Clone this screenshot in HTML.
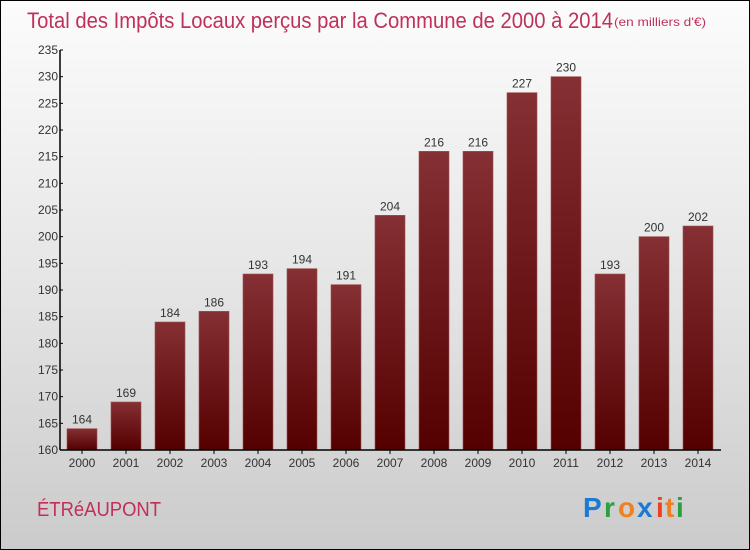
<!DOCTYPE html>
<html><head><meta charset="utf-8"><style>
body{margin:0}
#c{width:748px;height:548px;border:1px solid #000;background:linear-gradient(#fcfcfc,#e6e6e6 50%,#cbcbcb);position:relative;font-family:"Liberation Sans",sans-serif;overflow:hidden}
</style></head><body>
<div id="c">
<svg width="748" height="548" id="s">
<text x="26" y="27" font-size="22" fill="#c0305a" textLength="586" lengthAdjust="spacingAndGlyphs">Total des Impôts Locaux perçus par la Commune de 2000 à 2014</text>
<text x="613" y="25" font-size="12" fill="#c0305a" textLength="92" lengthAdjust="spacingAndGlyphs">(en milliers d'€)</text>
<text x="36" y="515" font-size="20" fill="#c0305a" textLength="124" lengthAdjust="spacingAndGlyphs">ÉTRéAUPONT</text>
<g font-size="28" font-weight="bold">
<text x="582" y="516" fill="#1a7ad4">P</text><text x="603" y="516" fill="#2aa040">r</text><text x="617" y="516" fill="#f08020">o</text><text x="636" y="516" fill="#1a7ad4">x</text><text x="655" y="516" fill="#e84020">i</text><text x="664" y="516" fill="#f08020">t</text><text x="675" y="516" fill="#2aa040">i</text>
</g>
<defs><linearGradient id="g" x1="0" y1="0" x2="0" y2="1"><stop offset="0" stop-color="#843034"/><stop offset="1" stop-color="#540000"/></linearGradient></defs>
<g id="bars"></g><g id="axes"></g>
</svg></div>
<script>
const years=["2000","2001","2002","2003","2004","2005","2006","2007","2008","2009","2010","2011","2012","2013","2014"];
const values=[164,169,184,186,193,194,191,204,216,216,227,230,193,200,202];
const yTicks=[160,165,170,175,180,185,190,195,200,205,210,215,220,225,230,235];
const ns="http://www.w3.org/2000/svg";
const yMin=160,yMax=235,plotTop=49,plotBot=449,x0=59;
function y(v){return plotBot-(v-yMin)/(yMax-yMin)*(plotBot-plotTop);}
function xc(i){return 81+i*44;}
function mk(t,a,p){const e=document.createElementNS(ns,t);for(const k in a)e.setAttribute(k,a[k]);p.appendChild(e);return e;}
const B=document.getElementById('bars'),A=document.getElementById('axes');
values.forEach((v,i)=>{
const r=mk('rect',{x:xc(i)-15,y:y(v),width:30,height:plotBot-y(v),fill:'url(#g)',stroke:'#a05050','stroke-width':0.6},B);


const t=mk('text',{x:xc(i),y:y(v)-5,'text-anchor':'middle','font-size':12,fill:'#333'},B);t.textContent=v;


const l=mk('text',{x:xc(i),y:466,'text-anchor':'middle','font-size':12,fill:'#333'},A);l.textContent=years[i];


mk('line',{x1:xc(i),x2:xc(i),y1:plotBot,y2:plotBot+4,stroke:'#000'},A);
});
yTicks.forEach(v=>{
mk('line',{x1:x0,x2:x0+3,y1:y(v),y2:y(v),stroke:'#000'},A);
const t=mk('text',{x:x0-2,y:y(v)+4,'text-anchor':'end','font-size':12,fill:'#333'},A);t.textContent=v;


});
const ya=mk('line',{x1:x0,x2:x0,y1:plotTop,y2:plotBot,stroke:'#000','stroke-width':1.5},A);


const xa=mk('line',{x1:x0,x2:720,y1:plotBot,y2:plotBot,stroke:'#000','stroke-width':1.5},A);


</script>
</body></html>
